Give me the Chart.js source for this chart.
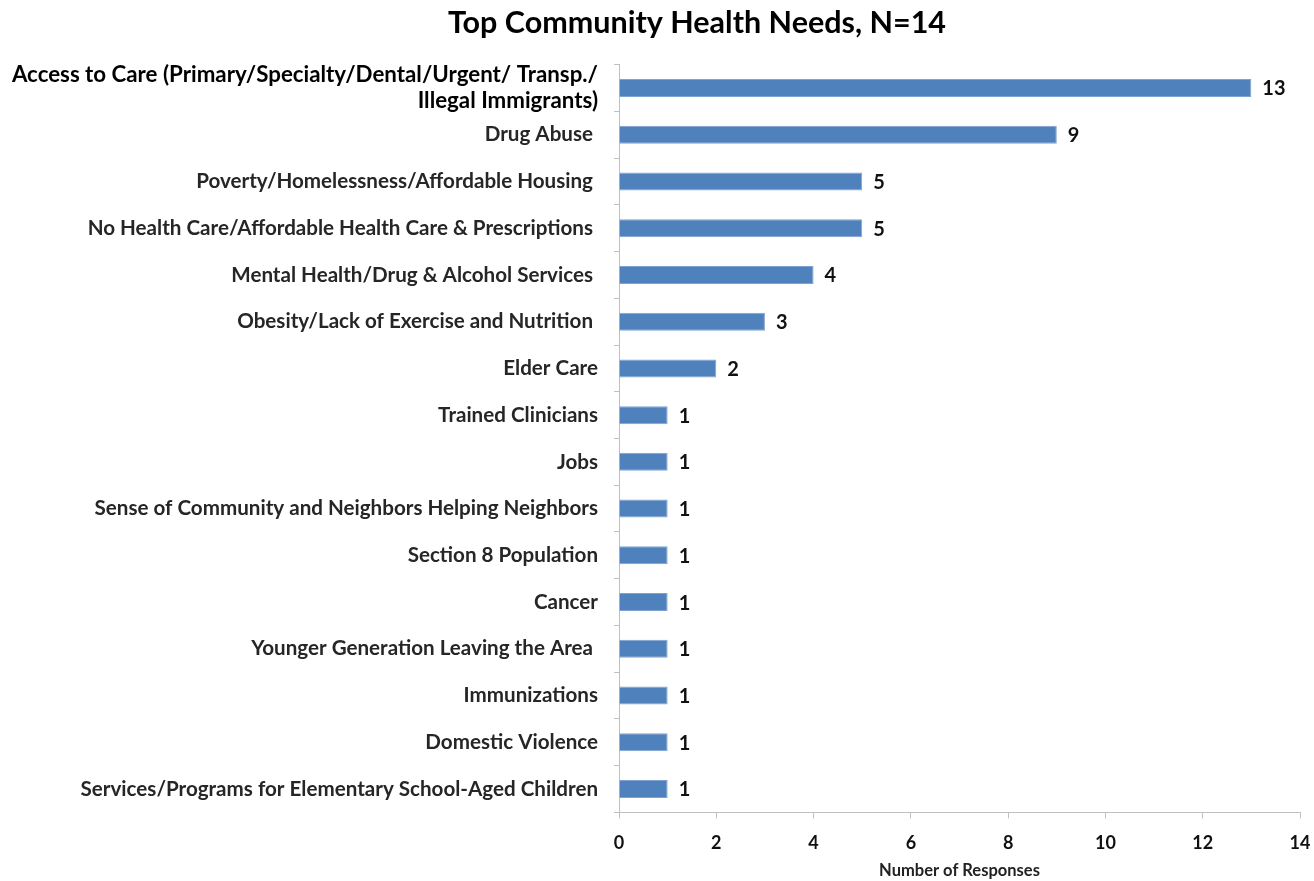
<!DOCTYPE html>
<html>
<head>
<meta charset="utf-8">
<script src="https://cdn.jsdelivr.net/npm/chart.js@4.4.0/dist/chart.umd.min.js"></script>
<style>
  html, body { margin: 0; padding: 0; background: #ffffff; }
  #wrap { width: 1314px; height: 881px; position: relative; }
</style>
</head>
<body>
<div id="wrap"><canvas id="c"></canvas></div>
<script>
const categories = [
  ['Access to Care (Primary/Specialty/Dental/Urgent/ Transp./', 'Illegal Immigrants)'],
  'Drug Abuse ',
  'Poverty/Homelessness/Affordable Housing ',
  'No Health Care/Affordable Health Care & Prescriptions ',
  'Mental Health/Drug & Alcohol Services ',
  'Obesity/Lack of Exercise and Nutrition ',
  'Elder Care',
  'Trained Clinicians',
  'Jobs',
  'Sense of Community and Neighbors Helping Neighbors',
  'Section 8 Population',
  'Cancer',
  'Younger Generation Leaving the Area ',
  'Immunizations',
  'Domestic Violence',
  'Services/Programs for Elementary School-Aged Children'
];
const responses = [13, 9, 5, 5, 4, 3, 2, 1, 1, 1, 1, 1, 1, 1, 1, 1];
const xTicks = [0, 2, 4, 6, 8, 10, 12, 14];
const chartTitle = 'Top Community Health Needs, N=14';
const xAxisTitle = 'Number of Responses';

const FONT = 'Lato, "Open Sans", sans-serif';

const valueLabels = {
  id: 'valueLabels',
  afterDatasetsDraw(chart) {
    const ctx = chart.ctx;
    const meta = chart.getDatasetMeta(0);
    ctx.save();
    ctx.font = 'bold 20px ' + FONT;
    ctx.fillStyle = '#111111';
    ctx.textAlign = 'left';
    ctx.textBaseline = 'middle';
    meta.data.forEach((bar, i) => {
      ctx.fillText(String(responses[i]), bar.x + 11, bar.y + 1);
    });
    ctx.restore();
  }
};

const topTitle = {
  id: 'topTitle',
  afterDraw(chart) {
    const ctx = chart.ctx;
    ctx.save();
    ctx.font = 'bold 30.5px ' + FONT;
    ctx.fillStyle = '#000000';
    ctx.textAlign = 'center';
    ctx.textBaseline = 'middle';
    ctx.fillText(chartTitle, 697, 23);
    ctx.restore();
  }
};

new Chart(document.getElementById('c'), {
  type: 'bar',
  data: {
    labels: categories,
    datasets: [{
      data: responses,
      backgroundColor: '#4F81BD',
      borderColor: '#7FA3D0',
      borderWidth: 1,
      barPercentage: 0.385,
      categoryPercentage: 1.0
    }]
  },
  options: {
    indexAxis: 'y',
    responsive: true,
    maintainAspectRatio: false,
    animation: false,
    layout: { padding: { left: 0, right: 14, top: 64.6, bottom: 0 } },
    plugins: {
      legend: { display: false },
      tooltip: { enabled: false },
      title: { display: false }
    },
    scales: {
      x: {
        min: 0,
        max: 14,
        afterBuildTicks(scale) { scale.ticks = xTicks.map(v => ({ value: v })); },
        afterFit(scale) {
          scale.height = 68.6;
          scale.paddingLeft = 0;
          scale.paddingRight = 0;
        },
        border: { display: true, color: '#BFBFBF', width: 1 },
        grid: { drawOnChartArea: false, drawTicks: true, tickLength: 6, color: '#BFBFBF' },
        ticks: { color: '#111111', padding: 14, font: { family: FONT, size: 18, weight: 'bold' } },
        title: {
          display: true,
          text: xAxisTitle,
          color: '#222222',
          font: { family: FONT, size: 16.5, weight: 'bold' },
          padding: { top: 0, bottom: 0 }
        }
      },
      y: {
        afterFit(scale) {
          scale.width = 619;
          scale.paddingTop = 0;
          scale.paddingBottom = 0;
        },
        border: { display: true, color: '#BFBFBF', width: 1 },
        grid: { drawOnChartArea: false, drawTicks: true, tickLength: 5, color: '#BFBFBF', offset: true },
        ticks: {
          padding: 16,
          autoSkip: false,
          color: (c) => c.index === 0 ? '#000000' : '#262626',
          font: (c) => c.index === 0
            ? { family: FONT, size: 22.3, weight: 'bold', lineHeight: 1.15 }
            : { family: FONT, size: 20.6, weight: 'bold' }
        }
      }
    }
  },
  plugins: [valueLabels, topTitle]
});
</script>
</body>
</html>
